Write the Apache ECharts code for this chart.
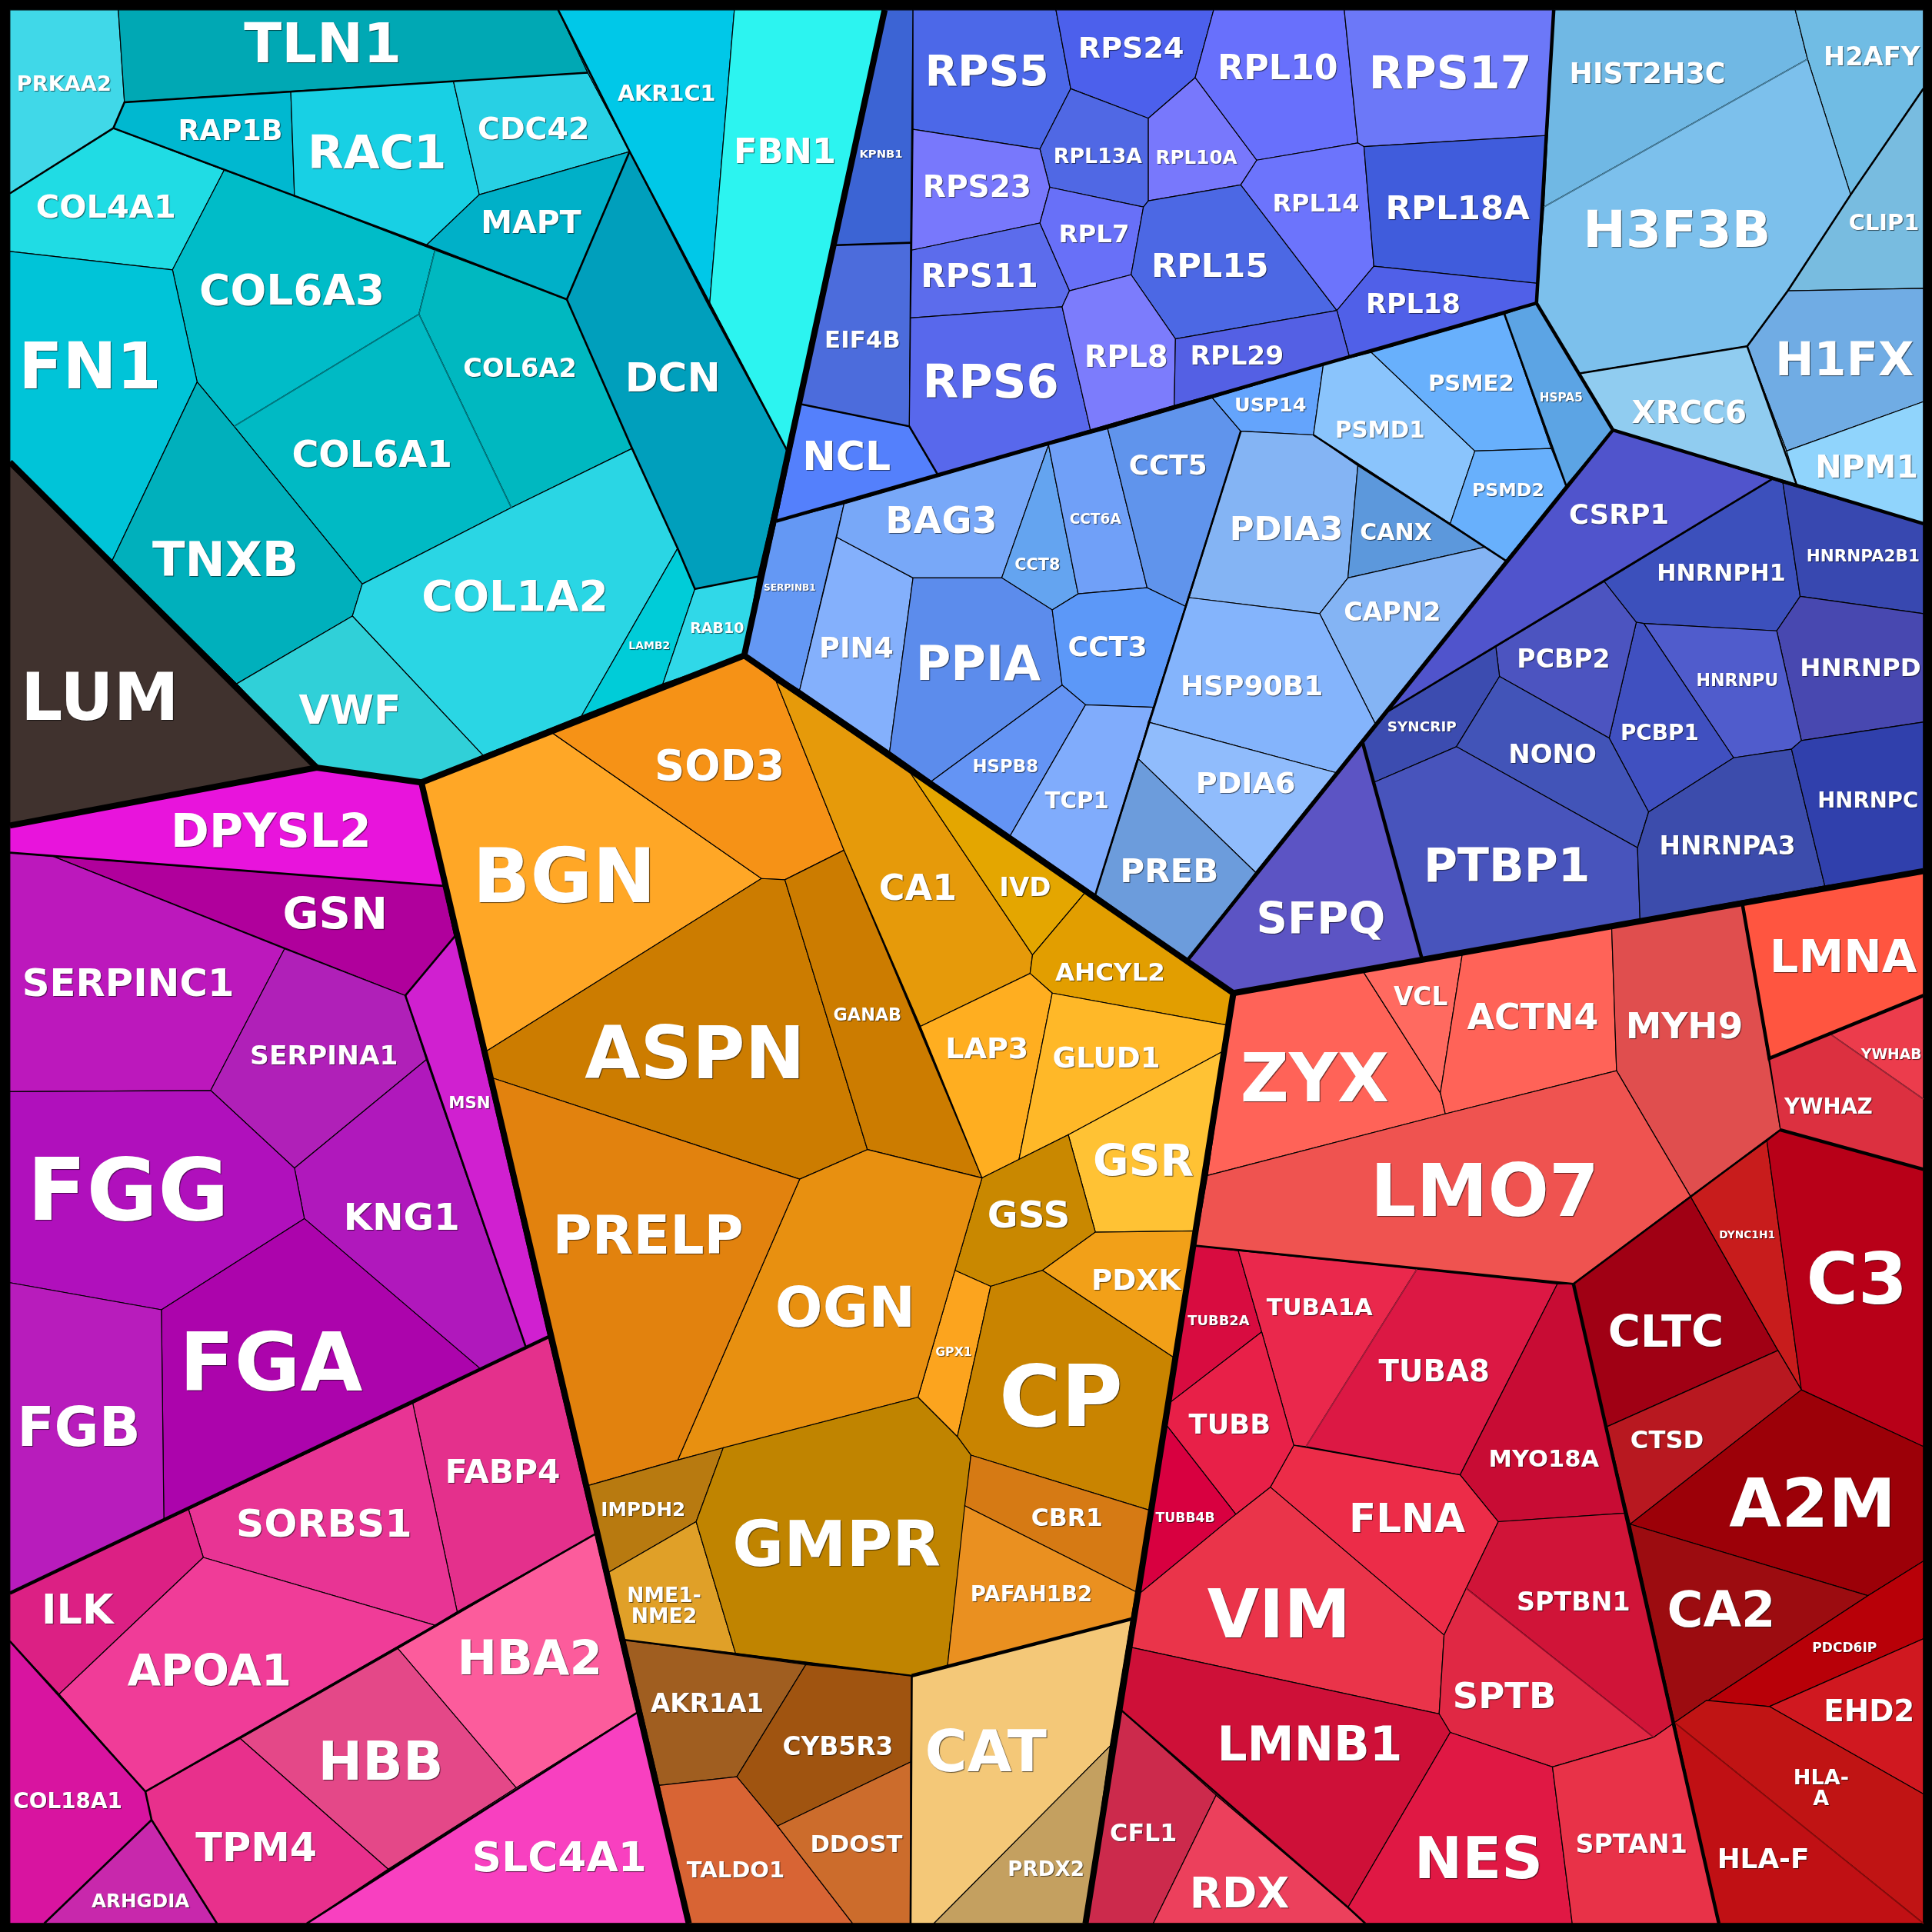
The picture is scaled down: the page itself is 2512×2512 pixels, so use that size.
<!DOCTYPE html>
<html>
<head>
<meta charset="utf-8">
<script src="https://cdn.jsdelivr.net/npm/echarts@6/dist/echarts.min.js"></script>
<style>html,body{margin:0;background:#000}#main{width:2512px;height:2512px}</style>
</head>
<body>
<div id="main"></div>
<script>
// cell outlines, in axis units (0..1568)
var cellOutlines = {
  'PRKAA2':[[8,8],[96,8],[101,83],[92,104],[8,157]],
  'TLN1':[[96,8],[453,8],[477,59],[101,83]],
  'RAP1B':[[101,83],[236,74],[239,159],[92,104]],
  'RAC1':[[236,74],[368,66],[389,158],[346,199],[239,159]],
  'CDC42':[[368,66],[477,59],[511,123],[389,158]],
  'MAPT':[[389,158],[511,123],[460,243],[346,199]],
  'COL4A1':[[8,157],[92,104],[182,138],[140,219],[8,204]],
  'COL6A3':[[182,138],[239,159],[353,203],[340,255],[190,346],[160,310],[140,219]],
  'COL6A2':[[353,203],[460,243],[513,364],[415,412],[340,255]],
  'COL6A1':[[340,255],[415,412],[294,474],[190,346]],
  'FN1':[[8,204],[140,219],[160,310],[91,455],[8,375]],
  'TNXB':[[160,310],[190,346],[294,474],[286,500],[192,555],[91,455]],
  'COL1A2':[[294,474],[415,412],[513,364],[550,445],[472,581],[392,613],[286,500]],
  'VWF':[[286,500],[392,613],[342,635],[257,623],[192,555]],
  'LAMB2':[[550,445],[564,478],[538,555],[472,581]],
  'RAB10':[[564,478],[615,468],[604,532],[538,555]],
  'DCN':[[511,123],[574,246],[639,366],[615,468],[564,478],[550,445],[513,364],[460,243]],
  'AKR1C1':[[453,8],[596,8],[576,246],[511,123],[477,59]],
  'FBN1':[[596,8],[718,8],[639,366],[576,246]],
  'LUM':[[8,375],[91,455],[192,555],[257,623],[8,670]],
  'DPYSL2':[[8,670],[257,623],[342,635],[360,719],[43,695],[8,692]],
  'GSN':[[43,695],[360,719],[369,760],[329,808]],
  'SERPINC1':[[8,692],[43,695],[231,770],[171,885],[8,886]],
  'SERPINA1':[[231,770],[329,808],[346,860],[239,948],[171,885]],
  'MSN':[[360,719],[369,760],[329,808],[427,1094],[445,1085]],
  'KNG1':[[346,860],[427,1094],[390,1111],[247,989],[239,948]],
  'FGG':[[8,886],[171,885],[239,948],[247,989],[131,1063],[8,1041]],
  'FGA':[[247,989],[390,1111],[133,1234],[131,1063]],
  'FGB':[[8,1041],[131,1063],[133,1234],[8,1293]],
  'FABP4':[[335,1139],[445,1085],[483,1245],[371,1308]],
  'SORBS1':[[153,1225],[335,1139],[371,1308],[353,1319],[165,1264]],
  'ILK':[[8,1293],[153,1225],[165,1264],[48,1375],[8,1332]],
  'APOA1':[[165,1264],[353,1319],[118,1454],[48,1375]],
  'HBA2':[[483,1245],[517,1390],[419,1451],[323,1338]],
  'HBB':[[323,1338],[419,1451],[315,1517],[195,1411]],
  'TPM4':[[195,1411],[315,1517],[249,1561],[176,1561],[123,1477],[118,1454]],
  'SLC4A1':[[517,1390],[559,1561],[249,1561],[419,1451]],
  'COL18A1':[[8,1332],[48,1375],[118,1454],[123,1477],[36,1561],[8,1561]],
  'ARHGDIA':[[123,1477],[176,1561],[36,1561]],
  'BGN':[[342,635],[447,594],[618,713],[395,853]],
  'SOD3':[[447,594],[604,532],[630,553],[685,690],[637,714],[618,713]],
  'ASPN':[[618,713],[637,714],[704,933],[649,957],[400,875],[395,853]],
  'GANAB':[[637,714],[685,690],[797,956],[704,933]],
  'CA1':[[630,553],[738,626],[838,775],[836,790],[747,833],[685,690]],
  'IVD':[[738,626],[881,724],[838,775]],
  'AHCYL2':[[881,724],[1001,806],[996,832],[854,806],[836,790],[838,775]],
  'LAP3':[[747,833],[836,790],[854,806],[827,941],[797,956]],
  'GLUD1':[[854,806],[996,832],[993,853],[867,921],[827,941]],
  'GSR':[[867,921],[993,853],[970,999],[889,1000]],
  'GSS':[[797,956],[827,941],[867,921],[889,1000],[846,1031],[804,1044],[775,1031]],
  'PDXK':[[889,1000],[970,999],[953,1102],[846,1031]],
  'GPX1':[[775,1031],[804,1044],[777,1166],[745,1134]],
  'CP':[[804,1044],[846,1031],[953,1102],[934,1226],[788,1181],[777,1166]],
  'OGN':[[704,933],[797,956],[775,1031],[745,1134],[550,1185],[649,957]],
  'PRELP':[[400,875],[649,957],[550,1185],[476,1206]],
  'IMPDH2':[[476,1206],[550,1185],[587,1175],[565,1235],[494,1276]],
  'NME1-NME2':[[494,1276],[565,1235],[597,1342],[507,1331]],
  'GMPR':[[587,1175],[745,1134],[777,1166],[788,1181],[769,1352],[740,1360],[597,1342],[565,1235]],
  'CBR1':[[788,1181],[934,1226],[922,1292],[783,1222]],
  'PAFAH1B2':[[783,1222],[922,1292],[918,1314],[769,1352]],
  'AKR1A1':[[507,1331],[654,1351],[598,1442],[535,1449]],
  'CYB5R3':[[654,1351],[740,1360],[739,1430],[631,1482],[598,1442]],
  'TALDO1':[[535,1449],[598,1442],[631,1482],[692,1561],[559,1561]],
  'DDOST':[[631,1482],[739,1430],[739,1561],[692,1561]],
  'CAT':[[740,1360],[918,1314],[901,1417],[758,1561],[739,1561]],
  'PRDX2':[[901,1417],[881,1561],[758,1561]],
  'ZYX':[[1001,806],[1106,788],[1169,887],[1173,904],[980,954]],
  'VCL':[[1106,788],[1187,773],[1169,887]],
  'ACTN4':[[1187,773],[1308,752],[1312,869],[1173,904],[1169,887]],
  'MYH9':[[1308,752],[1414,733],[1445,917],[1372,971],[1312,869]],
  'LMNA':[[1414,733],[1561,707],[1561,808],[1436,859]],
  'YWHAB':[[1485,839],[1561,808],[1561,892]],
  'YWHAZ':[[1436,859],[1485,839],[1561,892],[1561,949],[1445,917]],
  'LMO7':[[980,954],[1173,904],[1312,869],[1372,971],[1277,1042],[970,1011]],
  'TUBB2A':[[970,1011],[1005,1015],[1024,1081],[950,1138]],
  'TUBA1A':[[1005,1015],[1150,1030],[1060,1174],[1050,1173],[1024,1081]],
  'TUBA8':[[1150,1030],[1264,1042],[1185,1197],[1060,1174]],
  'MYO18A':[[1264,1042],[1277,1042],[1319,1228],[1216,1235],[1185,1197]],
  'FLNA':[[1050,1173],[1185,1197],[1216,1235],[1190,1289],[1172,1327],[1031,1207]],
  'TUBB':[[1024,1081],[1050,1173],[1031,1207],[1003,1229],[947,1157],[950,1138]],
  'TUBB4B':[[947,1157],[1003,1229],[924,1294],[934,1226]],
  'VIM':[[1031,1207],[1172,1327],[1168,1391],[918,1337],[924,1294],[1003,1229]],
  'SPTBN1':[[1216,1235],[1319,1228],[1359,1398],[1342,1410],[1190,1289]],
  'SPTB':[[1190,1289],[1342,1410],[1260,1434],[1177,1406],[1168,1391],[1172,1327]],
  'LMNB1':[[918,1337],[1168,1391],[1177,1406],[1094,1548],[987,1457],[910,1388]],
  'CFL1':[[910,1388],[987,1457],[936,1561],[881,1561]],
  'RDX':[[987,1457],[1094,1548],[1108,1561],[936,1561]],
  'NES':[[1177,1406],[1260,1434],[1276,1561],[1108,1561],[1094,1548]],
  'SPTAN1':[[1260,1434],[1342,1410],[1359,1398],[1395,1561],[1276,1561]],
  'CLTC':[[1277,1042],[1372,971],[1443,1096],[1304,1158]],
  'DYNC1H1':[[1372,971],[1434,926],[1462,1128],[1443,1096]],
  'C3':[[1434,926],[1445,917],[1561,949],[1561,1174],[1462,1128]],
  'CTSD':[[1304,1158],[1443,1096],[1462,1128],[1323,1237]],
  'A2M':[[1462,1128],[1561,1174],[1561,1267],[1516,1295],[1323,1237]],
  'CA2':[[1323,1237],[1516,1295],[1359,1398]],
  'PDCD6IP':[[1516,1295],[1561,1267],[1561,1330],[1436,1385],[1385,1380],[1359,1398]],
  'EHD2':[[1436,1385],[1561,1330],[1561,1456]],
  'HLA-A':[[1359,1398],[1385,1380],[1436,1385],[1561,1456],[1561,1561]],
  'HLA-F':[[1359,1398],[1561,1561],[1395,1561]],
  'KPNB1':[[718,8],[741,8],[739,197],[678,199]],
  'EIF4B':[[678,199],[739,197],[738,346],[650,328]],
  'NCL':[[650,328],[738,346],[761,385],[630,423]],
  'RPS5':[[741,8],[857,8],[869,72],[844,121],[741,105]],
  'RPS24':[[857,8],[985,8],[970,63],[932,96],[869,72]],
  'RPL13A':[[869,72],[932,96],[932,163],[928,168],[852,152],[844,121]],
  'RPL10A':[[932,96],[970,63],[1020,130],[1007,150],[932,163]],
  'RPL10':[[985,8],[1091,8],[1102,116],[1020,130],[970,63]],
  'RPS17':[[1091,8],[1261,8],[1255,110],[1107,119],[1102,116]],
  'RPS23':[[741,105],[844,121],[852,152],[844,181],[740,203]],
  'RPS11':[[740,203],[844,181],[868,236],[862,249],[739,258]],
  'RPS6':[[739,258],[862,249],[885,349],[761,385],[738,346]],
  'RPL7':[[852,152],[928,168],[918,223],[868,236],[844,181]],
  'RPL15':[[932,163],[1007,150],[1085,252],[954,275],[918,223],[928,168]],
  'RPL14':[[1020,130],[1102,116],[1107,119],[1115,216],[1085,252],[1007,150]],
  'RPL18A':[[1107,119],[1255,110],[1248,230],[1115,216]],
  'RPL18':[[1115,216],[1248,230],[1247,246],[1095,289],[1085,252]],
  'RPL8':[[868,236],[918,223],[954,275],[953,329],[885,349],[862,249]],
  'RPL29':[[954,275],[1085,252],[1095,289],[1074,296],[953,329]],
  'SERPINB1':[[630,423],[685,409],[649,560],[604,532]],
  'PIN4':[[679,436],[741,469],[722,610],[649,560]],
  'BAG3':[[685,409],[851,361],[813,469],[741,469],[679,436]],
  'CCT8':[[851,361],[875,482],[854,495],[813,469]],
  'CCT6A':[[851,361],[899,348],[931,477],[875,482]],
  'CCT5':[[899,348],[984,323],[1007,350],[962,492],[931,477]],
  'USP14':[[984,323],[1074,296],[1066,353],[1007,350]],
  'PPIA':[[741,469],[813,469],[854,495],[862,556],[756,634],[722,610]],
  'CCT3':[[854,495],[875,482],[931,477],[962,492],[936,574],[881,572],[862,556]],
  'HSPB8':[[756,634],[862,556],[881,572],[820,678]],
  'TCP1':[[881,572],[936,574],[889,726],[820,678]],
  'PDIA3':[[1007,350],[1066,353],[1102,378],[1094,469],[1071,498],[965,485]],
  'CANX':[[1102,378],[1205,444],[1094,469]],
  'CAPN2':[[1094,469],[1205,444],[1222,455],[1116,587],[1071,498]],
  'HSP90B1':[[965,485],[1071,498],[1116,587],[1084,627],[932,586],[936,574]],
  'PDIA6':[[932,586],[1084,627],[1019,708],[924,616]],
  'PREB':[[924,616],[1019,708],[964,779],[889,726]],
  'PSMD1':[[1074,296],[1113,286],[1197,366],[1177,425],[1066,353]],
  'PSME2':[[1113,286],[1221,255],[1259,364],[1197,366]],
  'HSPA5':[[1221,255],[1247,246],[1309,349],[1271,394],[1259,364]],
  'PSMD2':[[1197,366],[1259,364],[1271,394],[1222,455],[1177,425]],
  'HIST2H3C':[[1261,8],[1457,8],[1467,48],[1253,168]],
  'H2AFY':[[1457,8],[1561,8],[1561,72],[1502,158],[1467,48]],
  'CLIP1':[[1561,72],[1561,234],[1451,236],[1502,158]],
  'H3F3B':[[1253,168],[1467,48],[1502,158],[1451,236],[1418,281],[1282,303],[1247,246]],
  'H1FX':[[1451,236],[1561,234],[1561,326],[1450,366],[1418,281]],
  'XRCC6':[[1282,303],[1418,281],[1450,366],[1458,393],[1309,349]],
  'NPM1':[[1450,366],[1561,326],[1561,425],[1458,393]],
  'CSRP1':[[1309,349],[1438,389],[1302,472],[1214,525],[1127,577],[1222,455]],
  'HNRNPH1':[[1438,389],[1447,392],[1461,484],[1442,512],[1334,506],[1328,505],[1302,472]],
  'HNRNPA2B1':[[1447,392],[1561,425],[1561,498],[1461,484]],
  'HNRNPD':[[1461,484],[1561,498],[1561,586],[1462,601],[1442,512]],
  'HNRNPU':[[1334,506],[1442,512],[1462,601],[1454,608],[1407,615]],
  'PCBP1':[[1328,505],[1334,506],[1407,615],[1338,659],[1306,599]],
  'PCBP2':[[1214,525],[1302,472],[1328,505],[1306,599],[1217,549]],
  'SYNCRIP':[[1127,577],[1214,525],[1217,549],[1182,606],[1115,635],[1106,603]],
  'NONO':[[1217,549],[1306,599],[1338,659],[1329,688],[1182,606]],
  'PTBP1':[[1115,635],[1182,606],[1329,688],[1331,746],[1154,778]],
  'SFPQ':[[1106,603],[1115,635],[1154,778],[1001,806],[964,779]],
  'HNRNPA3':[[1338,659],[1407,615],[1454,608],[1481,719],[1331,746],[1329,688]],
  'HNRNPC':[[1454,608],[1462,601],[1561,586],[1561,707],[1481,719]]
};

var cellColors = {
  'PRKAA2':'#40d8e8','TLN1':'#00a8b4','RAP1B':'#00b8d0','RAC1':'#18d0e4','CDC42':'#28d0e4','MAPT':'#00b0c8',
  'COL4A1':'#20dce4','COL6A3':'#00bcc8','COL6A2':'#00b8c0','COL6A1':'#00bac4','FN1':'#00c4d8','TNXB':'#00b0bc',
  'COL1A2':'#2ad6e4','VWF':'#30d0d8','LAMB2':'#00ccd8','RAB10':'#30d8e8','DCN':'#009fbc','AKR1C1':'#00c8e8',
  'FBN1':'#2cf4f0','LUM':'#40322e',
  'DPYSL2':'#e814dc','GSN':'#b0009c','SERPINC1':'#bc18bc','SERPINA1':'#b020b8','MSN':'#d020d0','KNG1':'#b018bc',
  'FGG':'#b010bc','FGA':'#ac04ac','FGB':'#b81cbc',
  'FABP4':'#e4308c','SORBS1':'#e83494','ILK':'#dc2084','APOA1':'#f03c98','HBA2':'#fc5c9c','HBB':'#e44888',
  'TPM4':'#e8308c','SLC4A1':'#f840c0','COL18A1':'#d814a0','ARHGDIA':'#c828ac',
  'BGN':'#ffa726','SOD3':'#f69216','ASPN':'#cc7c00','GANAB':'#cc7c00','CA1':'#e69a0a','IVD':'#e4a600',
  'AHCYL2':'#e29e00','LAP3':'#ffae20','GLUD1':'#ffb828','GSR':'#ffc234','GSS':'#c98800','PDXK':'#f2a018',
  'GPX1':'#fca41e','CP':'#c98400','OGN':'#e89010','PRELP':'#e2820e','IMPDH2':'#b87a10','NME1-NME2':'#e0a028',
  'GMPR':'#c08400','CBR1':'#d67a14','PAFAH1B2':'#ea9020','AKR1A1':'#a05e20','CYB5R3':'#a05410','TALDO1':'#d86434',
  'DDOST':'#cc6c2c','CAT':'#f4c878','PRDX2':'#c4a060',
  'ZYX':'#ff6358','VCL':'#ff6a60','ACTN4':'#ff6358','MYH9':'#e04e4e','LMNA':'#ff5540','YWHAB':'#ec3c4c',
  'YWHAZ':'#dc3040','LMO7':'#ef5350','TUBB2A':'#d80c40','TUBA1A':'#ea284c','TUBA8':'#dc1844','MYO18A':'#c80c34',
  'FLNA':'#ec2c48','TUBB':'#e82048','TUBB4B':'#d80040','VIM':'#ea344a','SPTBN1':'#d01438','SPTB':'#e02844',
  'LMNB1':'#ce1038','CFL1':'#cc2a4c','RDX':'#ec405c','NES':'#e01844','SPTAN1':'#e83248','CLTC':'#a00014',
  'DYNC1H1':'#c81c1c','C3':'#b80018','CTSD':'#b81820','A2M':'#9c0008','CA2':'#9c0c10','PDCD6IP':'#b80008',
  'EHD2':'#d01820','HLA-A':'#c01414','HLA-F':'#c01014',
  'KPNB1':'#3c64d4','EIF4B':'#4c6cdc','NCL':'#5480fc','RPS5':'#4c68e8','RPS24':'#4c60ec','RPL13A':'#5068e4',
  'RPL10A':'#7878fc','RPL10':'#6870fc','RPS17':'#6c78f8','RPS23':'#7878fc','RPS11':'#5c6cec','RPS6':'#5868ec',
  'RPL7':'#6870f8','RPL15':'#4c68e4','RPL14':'#6c74fc','RPL18A':'#405cdc','RPL18':'#5060e8','RPL8':'#7c7cfc',
  'RPL29':'#5460e4',
  'SERPINB1':'#6498f4','PIN4':'#84b0fc','BAG3':'#78a8f8','CCT8':'#64a4f0','CCT6A':'#70a0f8','CCT5':'#6094ec',
  'USP14':'#64a4fc','PPIA':'#5c8cec','CCT3':'#5c98f8','HSPB8':'#6494f4','TCP1':'#80acfc','PDIA3':'#84b4f4',
  'CANX':'#5c98dc','CAPN2':'#84b4f4','HSP90B1':'#84b4fc','PDIA6':'#90bcfc','PREB':'#6c9cdc','PSMD1':'#8ac4fc',
  'PSME2':'#68b0fc','HSPA5':'#5ca4e4','PSMD2':'#68b0fc',
  'HIST2H3C':'#70b8e4','H2AFY':'#70bce4','CLIP1':'#78bce0','H3F3B':'#7cc0ec','H1FX':'#70ace4','XRCC6':'#90ccf0',
  'NPM1':'#90d4fc',
  'CSRP1':'#5054cc','HNRNPH1':'#3c50bc','HNRNPA2B1':'#3848b0','HNRNPD':'#4848b0','HNRNPU':'#505ccc',
  'PCBP1':'#4050c0','PCBP2':'#4c54c0','SYNCRIP':'#3c4cb0','NONO':'#4254b8','PTBP1':'#4854bc','SFPQ':'#5c54c4',
  'HNRNPA3':'#3c4cac','HNRNPC':'#3040ac'
};

// label centre x, centre y, font size, all in axis units
var cellLabels = {
  'PRKAA2':[52,67,16.6],'TLN1':[262,35,43.8],'RAP1B':[187,105,22.2],'RAC1':[306,123,37],'CDC42':[433,104,24],
  'MAPT':[431,180,25],'COL4A1':[86,167,25.3],'COL6A3':[237,235,33.5],'COL6A2':[422,298,20.5],'COL6A1':[302,368,29],
  'FN1':[73,297,51],'TNXB':[183,454,38],'COL1A2':[418,483,33.7],'VWF':[284,576,31.6],'LAMB2':[527,523,8.5],
  'RAB10':[582,509,11.6],'DCN':[546,306,31.5],'AKR1C1':[541,75,17.5],'FBN1':[637,122,27.2],'LUM':[81,566,52],
  'DPYSL2':[220,674,36.6],'GSN':[272,741,35],'SERPINC1':[104,797,30.3],'SERPINA1':[263,856,21],'MSN':[381,894,13],
  'KNG1':[326,987,29.4],'FGG':[104,966,68.8],'FGA':[220,1106,63.7],'FGB':[64,1158,43.2],'FABP4':[408,1194,25.8],
  'SORBS1':[263,1236,30.8],'ILK':[63,1306,32],'APOA1':[170,1356,34.2],'HBA2':[430,1345,37.5],'HBB':[309,1429,42],
  'TPM4':[208,1499,31],'SLC4A1':[454,1507,32.5],'COL18A1':[55,1461,17],'ARHGDIA':[114,1542,15],
  'BGN':[458,711,60],'SOD3':[584,621,33.3],'ASPN':[564,855,57],'GANAB':[704,823,13.6],'CA1':[745,720,28],
  'IVD':[832,719,20.7],'AHCYL2':[901,788,19.8],'LAP3':[801,850,23.2],'GLUD1':[898,858,22.7],'GSR':[928,942,34.6],
  'GSS':[835,985,29.6],'PDXK':[922,1038,22.8],'GPX1':[774,1096,9.6],'CP':[861,1134,66.8],'OGN':[686,1061,44.3],
  'PRELP':[526,1002,42.5],'IMPDH2':[522,1224,15],'NME1-NME2':[539,1302,16.2],'GMPR':[679,1253,49.7],
  'CBR1':[866,1231,19.2],'PAFAH1B2':[837,1293,16.8],'AKR1A1':[574,1382,20],'CYB5R3':[680,1417,20],
  'TALDO1':[597,1517,17.7],'DDOST':[695,1496,18.7],'CAT':[800,1421,45.7],'PRDX2':[849,1516,16],
  'ZYX':[1067,875,53],'VCL':[1153,808,20],'ACTN4':[1244,825,28],'MYH9':[1367,832,28.6],'LMNA':[1496,776,36],
  'YWHAB':[1535,855,11.4],'YWHAZ':[1484,897,16.8],'LMO7':[1205,967,57],'TUBB2A':[989,1071,10.9],
  'TUBA1A':[1071,1060,18.7],'TUBA8':[1164,1112,23.6],'MYO18A':[1253,1183,18.6],'FLNA':[1142,1232,31.4],
  'TUBB':[998,1155,21.5],'TUBB4B':[962,1231,10.5],'VIM':[1038,1310,53],'SPTBN1':[1277,1299,20.3],'SPTB':[1221,1376,28.3],
  'LMNB1':[1063,1415,37.4],'CFL1':[928,1487,19.3],'RDX':[1006,1536,33.3],'NES':[1200,1508,45.5],'SPTAN1':[1324,1496,20.3],
  'CLTC':[1352,1080,35],'DYNC1H1':[1418,1001,8.4],'C3':[1507,1038,56],'CTSD':[1353,1168,19.6],'A2M':[1471,1220,53.5],
  'CA2':[1397,1306,39],'PDCD6IP':[1497,1336,10.4],'EHD2':[1517,1388,23.6],'HLA-A':[1478,1450,16.5],'HLA-F':[1431,1508,21.8],
  'KPNB1':[715,124,9],'EIF4B':[700,275,18.8],'NCL':[687,370,31.7],'RPS5':[801,57,33.6],'RPS24':[918,38,23.2],
  'RPL13A':[891,126,16.3],'RPL10A':[971,127,15],'RPL10':[1037,54,27],'RPS17':[1177,59,35.7],'RPS23':[793,151,23.8],
  'RPS11':[795,223,25.7],'RPS6':[804,309,37],'RPL7':[888,189,19.8],'RPL15':[982,215,26.3],'RPL14':[1068,164,19.5],
  'RPL18A':[1183,168,26.5],'RPL18':[1147,246,21.2],'RPL8':[914,289,23.3],'RPL29':[1004,288,21],
  'SERPINB1':[641,476,7.4],'PIN4':[695,525,22.4],'BAG3':[764,422,29],'CCT8':[842,457,12.7],'CCT6A':[889,420,11.3],
  'CCT5':[948,377,21.8],'USP14':[1031,328,15.6],'PPIA':[794,538,37.9],'CCT3':[899,524,22.1],'HSPB8':[816,621,13.9],
  'TCP1':[874,649,17.9],'PDIA3':[1044,428,26.4],'CANX':[1133,431,18.3],'CAPN2':[1130,496,20.4],'HSP90B1':[1016,556,22],
  'PDIA6':[1011,635,23.2],'PREB':[949,706,26.5],'PSMD1':[1120,348,17.9],'PSME2':[1194,310,17.8],'HSPA5':[1267,322,9.3],
  'PSMD2':[1224,397,14.4],
  'HIST2H3C':[1337,59,22.2],'H2AFY':[1519,45,20.5],'CLIP1':[1529,180,17.6],'H3F3B':[1361,186,40.5],'H1FX':[1497,291,36.8],
  'XRCC6':[1371,334,24.6],'NPM1':[1515,378,25],
  'CSRP1':[1314,417,21.6],'HNRNPH1':[1397,464,18.4],'HNRNPA2B1':[1512,450,13.1],'HNRNPD':[1510,541,19.8],
  'HNRNPU':[1410,551,13.5],'PCBP1':[1347,594,17],'PCBP2':[1269,534,20.2],'SYNCRIP':[1154,589,11.2],'NONO':[1260,611,20.7],
  'PTBP1':[1223,702,36.6],'SFPQ':[1072,745,34.2],'HNRNPA3':[1402,686,20],'HNRNPC':[1516,649,16.8]
};

// the names that wrap onto two lines
var wrappedNames = {'NME1-NME2':'NME1-\nNME2','HLA-A':'HLA-\nA'};

// borders between the groups of cells
var heavyEdges = [
  [[8,375],[257,623]],
  [[8,670],[257,623],[342,635],[604,532],[718,8]],
  [[342,635],[559,1561]],
  [[604,532],[1001,806],[881,1561]],
  [[1001,806],[1561,707]]
];
var mediumEdges = [
  [[630,423],[1247,246]],
  [[1261,8],[1247,246],[1309,349],[964,779]],
  [[1309,349],[1561,425]],
  [[1106,603],[1154,778]],
  [[1277,1042],[1395,1561]],
  [[740,1360],[918,1314]],
  [[8,1293],[445,1085]],
  [[1445,917],[1561,949]],
  [[1414,733],[1436,859],[1561,808]]
];
var lightEdges = [
  [[8,157],[92,104],[101,83],[477,59]],
  [[92,104],[346,199],[460,243],[511,123]],
  [[453,8],[511,123],[639,366]],
  [[460,243],[513,364],[550,445],[564,478],[615,468]],
  [[650,328],[738,346],[761,385]],
  [[678,199],[739,197]],
  [[1438,389],[1127,577]],
  [[1007,350],[889,726]],
  [[1066,353],[1222,455]],
  [[1221,255],[1271,394]],
  [[1282,303],[1418,281],[1458,393]],
  [[1418,281],[1451,236],[1502,158],[1561,72]],
  [[8,692],[360,719]],
  [[329,808],[427,1094]],
  [[329,808],[369,760]],
  [[8,1332],[118,1454],[123,1477],[176,1561]],
  [[118,1454],[483,1245]],
  [[123,1477],[36,1561]],
  [[249,1561],[517,1390]],
  [[507,1331],[740,1360],[739,1561]],
  [[970,1011],[1277,1042],[1445,917]],
  [[910,1388],[1094,1548],[1108,1561]]
];
// the borders that are hardly visible, with the tint they show
var faintEdges = [
  [[[190,346],[340,255],[415,412]], '#007c84'],
  [[[340,255],[353,203]], '#007c84'],
  [[[1253,168],[1467,48]], '#4c88a8'],
  [[[1150,1030],[1060,1174]], '#a81c3c'],
  [[[1190,1289],[1342,1410]], '#98102c'],
  [[[1359,1398],[1561,1561]], '#8c0c0c'],
  [[[1485,839],[1561,892]], '#a02838']
];

var cellNames = Object.keys(cellOutlines);

function toPixels(api, points) {
  return points.map(function (p) { return api.coord(p); });
}

function renderCell(params, api) {
  var name = cellNames[params.dataIndex];
  var label = cellLabels[name];
  var unit = api.size([1, 0])[0];
  var size = label[2] * 1.025 * unit;
  // the label points are glyph centres, the text box sits a bit higher
  var anchor = api.coord([label[0], label[1] + 1 + label[2] * 0.07]);
  return {
    type: 'group',
    children: [
      {
        type: 'polygon',
        shape: { points: toPixels(api, cellOutlines[name]) },
        style: { fill: cellColors[name], stroke: '#000', lineWidth: 1.2 }
      },
      {
        type: 'text',
        z2: 10,
        style: {
          text: wrappedNames[name] || name,
          x: anchor[0],
          y: anchor[1],
          fill: '#fff',
          align: 'center',
          verticalAlign: 'middle',
          fontFamily: '"DejaVu Sans"',
          fontWeight: 'bold',
          fontSize: size,
          lineHeight: size * 1.02,
          textShadowColor: 'rgba(0,0,0,0.6)',
          textShadowBlur: 1,
          textShadowOffsetX: 1,
          textShadowOffsetY: 1
        }
      }
    ]
  };
}

function edgeSeries(edges, width, tint, z) {
  return {
    type: 'custom',
    silent: true,
    z: z,
    animation: false,
    clip: false,
    data: edges.map(function (e, i) { return [e[0][0], e[0][1], i]; }),
    renderItem: function (params, api) {
      return {
        type: 'polyline',
        shape: { points: toPixels(api, edges[params.dataIndex]) },
        style: { fill: 'none', stroke: tint, lineWidth: width, lineJoin: 'miter' }
      };
    }
  };
}

function faintSeries() {
  return {
    type: 'custom',
    silent: true,
    z: 3,
    animation: false,
    clip: false,
    data: faintEdges.map(function (e, i) { return [e[0][0][0], e[0][0][1], i]; }),
    renderItem: function (params, api) {
      return {
        type: 'polyline',
        shape: { points: toPixels(api, faintEdges[params.dataIndex][0]) },
        style: { fill: 'none', stroke: faintEdges[params.dataIndex][1], lineWidth: 1.6 }
      };
    }
  };
}

var chart = echarts.init(document.getElementById('main'));
var option = {
  backgroundColor: '#000',
  animation: false,
  grid: { left: 0, right: 0, top: 0, bottom: 0 },
  xAxis: { type: 'value', min: 0, max: 1568, show: false },
  yAxis: { type: 'value', min: 0, max: 1568, inverse: true, show: false },
  series: [
    {
      type: 'custom',
      silent: true,
      z: 2,
      animation: false,
      clip: false,
      data: cellNames.map(function (n) { return [cellLabels[n][0], cellLabels[n][1]]; }),
      renderItem: renderCell
    },
    faintSeries(),
    edgeSeries(lightEdges, 2.6, '#000', 5),
    edgeSeries(mediumEdges, 4.5, '#000', 5),
    edgeSeries(heavyEdges, 8, '#000', 5)
  ]
};
chart.setOption(option);
</script>
</body>
</html>
